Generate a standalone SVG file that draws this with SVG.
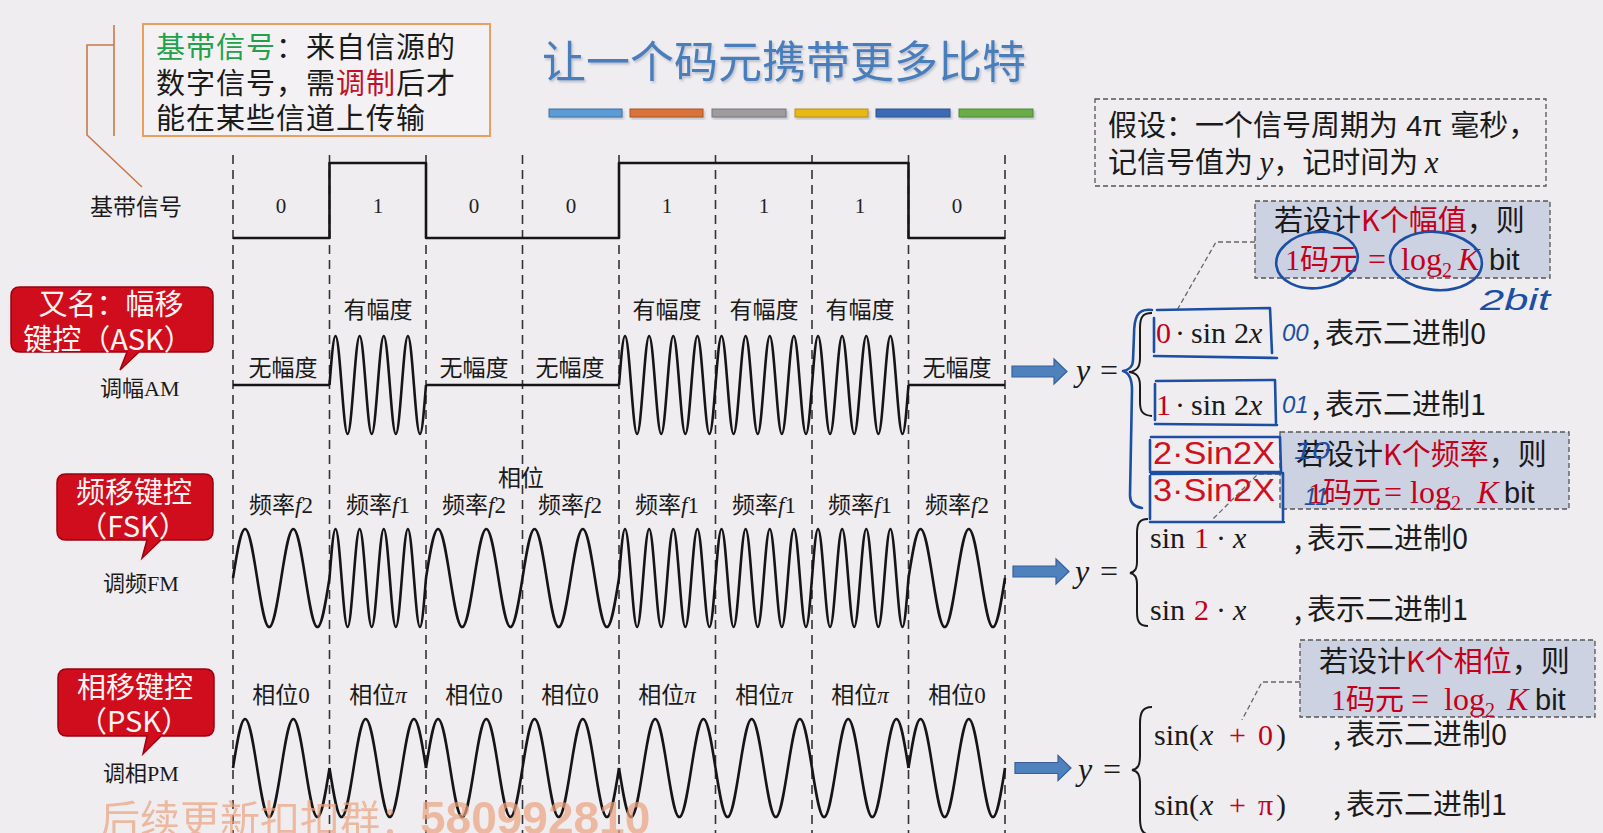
<svg xmlns="http://www.w3.org/2000/svg" xmlns:xlink="http://www.w3.org/1999/xlink" width="1603" height="833" viewBox="0 0 1603 833">
<style>
.bg{fill:#efedf0}
.wave{fill:none;stroke:#151515;stroke-width:2.6;stroke-linejoin:round}
.grid{stroke:#333;stroke-width:1.6;stroke-dasharray:9 6;fill:none}
.serif{font-family:"Liberation Serif","Noto Sans CJK SC",serif}
.cjk{font-family:"Noto Sans CJK SC",sans-serif}
.sans{font-family:"Liberation Sans","Noto Sans CJK SC",sans-serif}
.lbl{font-family:"Liberation Serif","Noto Sans CJK SC",serif;font-size:23px;fill:#1a1a1a;text-anchor:middle}
.dig{font-family:"Liberation Serif",serif;font-size:21px;fill:#222;text-anchor:middle}
.callout{fill:#cf0d1d;stroke:#9c0010;stroke-width:1.5}
.ctext{font-family:"Noto Sans CJK SC",sans-serif;font-size:29px;fill:#fff4f4;text-anchor:middle}
.red{fill:#c4001a}
.math{font-family:"Liberation Serif",serif;font-size:30px;fill:#1a1a1a}
.it{font-style:italic}
.desc{font-family:"Noto Sans CJK SC",sans-serif;font-size:29px;fill:#1a1a1a}
.kbox{fill:#cdd2e2;stroke:#555;stroke-width:1.3;stroke-dasharray:5 3}
.dbox{fill:none;stroke:#555;stroke-width:1.3;stroke-dasharray:5 3}
.lead{fill:none;stroke:#666;stroke-width:1.3;stroke-dasharray:5 3}
.arrow{fill:#4f81bd;stroke:#37609a;stroke-width:1.2}
.brace{fill:none;stroke:#1a1a1a;stroke-width:2}
.ink{fill:none;stroke:#1c4fa3;stroke-width:2.6;stroke-linecap:round;stroke-linejoin:round}
.inkt{font-family:"Liberation Sans",sans-serif;font-style:italic;fill:#1c4fa3}
.redink{font-family:"Liberation Sans",sans-serif;fill:#d0101e}
</style>
<defs>
<path id="f1seg" class="wave" d="M0,0 c2.016,-25.73 3.861,-49 6.031,-49 s4.015,23.27 6.031,49 s3.861,49 6.031,49 s4.015,-23.27 6.031,-49 s3.861,-49 6.031,-49 s4.015,23.27 6.031,49 s3.861,49 6.031,49 s4.015,-23.27 6.031,-49 s3.861,-49 6.031,-49 s4.015,23.27 6.031,49 s3.861,49 6.031,49 s4.015,-23.27 6.031,-49 s3.861,-49 6.031,-49 s4.015,23.27 6.031,49 s3.861,49 6.031,49 s4.015,-23.27 6.031,-49"/>
<path id="f2seg" class="wave" d="M0,0 c4.032,-25.73 7.721,-49 12.063,-49 s8.030,23.27 12.063,49 s7.721,49 12.063,49 s8.030,-23.27 12.063,-49 s7.721,-49 12.063,-49 s8.030,23.27 12.063,49 s7.721,49 12.063,49 s8.030,-23.27 12.063,-49"/>
<filter id="sh" x="-5%" y="-20%" width="110%" height="150%"><feDropShadow dx="1.5" dy="2" stdDeviation="1" flood-color="#7a8aa0" flood-opacity="0.45"/></filter>
</defs>
<rect class="bg" x="0" y="0" width="1603" height="833"/>

<g id="title">
<text x="542" y="78" class="cjk" font-size="44" fill="#4a7ebb" filter="url(#sh)">让一个码元携带更多比特</text>
<g filter="url(#sh)" stroke-width="1">
<rect x="549" y="109" width="73" height="8" fill="#5b9bd5" stroke="#41719c"/>
<rect x="630" y="109" width="73" height="8" fill="#d9733a" stroke="#a9541f"/>
<rect x="712" y="109" width="74" height="8" fill="#9e9a9e" stroke="#7a767a"/>
<rect x="795" y="109" width="73" height="8" fill="#e8b818" stroke="#b89010"/>
<rect x="876" y="109" width="74" height="8" fill="#3e6bb5" stroke="#2d5190"/>
<rect x="959" y="109" width="74" height="8" fill="#6aac46" stroke="#4f8a32"/>
</g>
</g>

<g id="note-baseband">
<path d="M114,25 V136 M114,45 H87 V135 L142,187" fill="none" stroke="#c8784c" stroke-width="1.6"/>
<rect x="143" y="24" width="347" height="112" fill="#f3f1f3" stroke="#e8a060" stroke-width="2"/>
<text class="cjk" font-size="29" letter-spacing="1" fill="#1a1a1a"><tspan x="156" y="58"><tspan fill="#23a04a">基带信号</tspan>：来自信源的</tspan><tspan x="156" y="94">数字信号，需<tspan fill="#c0102a">调制</tspan>后才</tspan><tspan x="156" y="129">能在某些信道上传输</tspan></text>
</g>

<g id="grid">
<path class="grid" d="M233,155 V833 M329.5,155 V833 M426,155 V833 M522.5,155 V833 M619,155 V833 M715.5,155 V833 M812,155 V833 M908.5,155 V833 M1005,155 V833"/>
</g>

<g id="baseband">
<text x="90" y="215" class="serif" font-size="23" fill="#1a1a1a">基带信号</text>
<path class="wave" d="M233,238 H329.5 V163 H426 V238 H619 V163 H908.5 V238 H1005"/>
<text class="dig" y="213"><tspan x="281">0</tspan><tspan x="378">1</tspan><tspan x="474">0</tspan><tspan x="571">0</tspan><tspan x="667">1</tspan><tspan x="764">1</tspan><tspan x="860">1</tspan><tspan x="957">0</tspan></text>
</g>

<g id="ask-label">
<path class="callout" d="M20,287 H204 Q213,287 213,296 V343 Q213,352 204,352 H139 L120,370 L127,352 H20 Q11,352 11,343 V296 Q11,287 20,287 Z"/>
<text class="ctext" x="111" y="315">又名：幅移</text>
<text class="ctext" x="108" y="350">键控（ASK）</text>
<text x="100" y="396" class="serif" font-size="22" fill="#1a1a1a">调幅AM</text>
</g>
<g id="ask-wave">
<path class="wave" d="M233,385 H329.5 M426,385 H619 M908.5,385 H1005"/>
<use xlink:href="#f1seg" x="329.5" y="385"/>
<use xlink:href="#f1seg" x="619" y="385"/>
<use xlink:href="#f1seg" x="715.5" y="385"/>
<use xlink:href="#f1seg" x="812" y="385"/>
<text class="lbl" y="318"><tspan x="378">有幅度</tspan><tspan x="667">有幅度</tspan><tspan x="764">有幅度</tspan><tspan x="860">有幅度</tspan></text>
<text class="lbl" y="376"><tspan x="283">无幅度</tspan><tspan x="474">无幅度</tspan><tspan x="570">无幅度</tspan><tspan x="957">无幅度</tspan></text>
</g>

<g id="fsk-label">
<path class="callout" d="M66,474 H204 Q213,474 213,483 V531 Q213,540 204,540 H161 L142,558 L147,540 H66 Q57,540 57,531 V483 Q57,474 66,474 Z"/>
<text class="ctext" x="134" y="503">频移键控</text>
<text class="ctext" x="133" y="537">（FSK）</text>
<text x="103" y="591" class="serif" font-size="22" fill="#1a1a1a">调频FM</text>
</g>
<g id="fsk-wave">
<use xlink:href="#f2seg" x="233" y="578"/>
<use xlink:href="#f1seg" x="329.5" y="578"/>
<use xlink:href="#f2seg" x="426" y="578"/>
<use xlink:href="#f2seg" x="522.5" y="578"/>
<use xlink:href="#f1seg" x="619" y="578"/>
<use xlink:href="#f1seg" x="715.5" y="578"/>
<use xlink:href="#f1seg" x="812" y="578"/>
<use xlink:href="#f2seg" x="908.5" y="578"/>
<text class="lbl" x="521" y="486">相位</text>
<text class="lbl" y="513"><tspan x="281">频率<tspan class="it">f</tspan>2</tspan><tspan x="378">频率<tspan class="it">f</tspan>1</tspan><tspan x="474">频率<tspan class="it">f</tspan>2</tspan><tspan x="570">频率<tspan class="it">f</tspan>2</tspan><tspan x="667">频率<tspan class="it">f</tspan>1</tspan><tspan x="764">频率<tspan class="it">f</tspan>1</tspan><tspan x="860">频率<tspan class="it">f</tspan>1</tspan><tspan x="957">频率<tspan class="it">f</tspan>2</tspan></text>
</g>

<g id="psk-label">
<path class="callout" d="M67,669 H205 Q214,669 214,678 V727 Q214,736 205,736 H161 L143,754 L147,736 H67 Q58,736 58,727 V678 Q58,669 67,669 Z"/>
<text class="ctext" x="135" y="698">相移键控</text>
<text class="ctext" x="134" y="732">（PSK）</text>
<text x="103" y="781" class="serif" font-size="22" fill="#1a1a1a">调相PM</text>
</g>
<g id="psk-wave">
<use xlink:href="#f2seg" x="233" y="768"/>
<use xlink:href="#f2seg" transform="translate(329.5,768) scale(1,-1)"/>
<use xlink:href="#f2seg" x="426" y="768"/>
<use xlink:href="#f2seg" x="522.5" y="768"/>
<use xlink:href="#f2seg" transform="translate(619,768) scale(1,-1)"/>
<use xlink:href="#f2seg" transform="translate(715.5,768) scale(1,-1)"/>
<use xlink:href="#f2seg" transform="translate(812,768) scale(1,-1)"/>
<use xlink:href="#f2seg" x="908.5" y="768"/>
<text class="lbl" y="703"><tspan x="281">相位0</tspan><tspan x="378">相位<tspan class="it">π</tspan></tspan><tspan x="474">相位0</tspan><tspan x="570">相位0</tspan><tspan x="667">相位<tspan class="it">π</tspan></tspan><tspan x="764">相位<tspan class="it">π</tspan></tspan><tspan x="860">相位<tspan class="it">π</tspan></tspan><tspan x="957">相位0</tspan></text>
</g>

<g id="connectors">
<polygon class="arrow" points="1012,366 1054,366 1054,359 1067,371.5 1054,384 1054,377 1012,377"/>
<polygon class="arrow" points="1013,566 1056,566 1056,559 1069,571.5 1056,584 1056,577 1013,577"/>
<polygon class="arrow" points="1015,762.5 1058,762.5 1058,755.5 1071,768 1058,780.5 1058,773.5 1015,773.5"/>
<path class="lead" d="M1255,242 H1216 L1176,312"/>
<path class="lead" d="M1280,474 H1258 L1212,520"/>
<path class="lead" d="M1300,682 H1262 L1242,720"/>
</g>

<g id="assume-box">
<rect class="dbox" x="1095" y="99" width="451" height="87"/>
<text class="cjk" font-size="29" fill="#1a1a1a"><tspan x="1108" y="136">假设：一个信号周期为<tspan class="sans"> 4π </tspan>毫秒，</tspan><tspan x="1108" y="173">记信号值为 <tspan class="serif it" font-size="31">y</tspan>，记时间为 <tspan class="serif it" font-size="31">x</tspan></tspan></text>
</g>

<g id="ask-formula">
<text class="math" y="381"><tspan x="1076" class="it" font-size="32">y</tspan><tspan x="1100" font-size="32">=</tspan></text>
<path class="brace" d="M1152,313 C1142,313 1140,318 1140,328 V358 C1140,367 1137,371 1129,372 C1137,373 1140,377 1140,386 V402 C1140,411 1142,415 1152,416"/>
<text class="math" y="343"><tspan x="1156" class="red">0</tspan><tspan x="1175">·</tspan><tspan x="1191">sin</tspan><tspan x="1234">2</tspan><tspan x="1249" class="it">x</tspan></text>
<text class="math" y="415"><tspan x="1156" class="red">1</tspan><tspan x="1175">·</tspan><tspan x="1191">sin</tspan><tspan x="1234">2</tspan><tspan x="1249" class="it">x</tspan></text>
<text class="desc" y="344"><tspan x="1312">,</tspan><tspan x="1325">表示二进制0</tspan></text>
<text class="desc" y="415"><tspan x="1312">,</tspan><tspan x="1325">表示二进制1</tspan></text>
</g>

<g id="amp-box">
<rect class="kbox" x="1255" y="201" width="295" height="77"/>
<text class="cjk" font-size="29" fill="#1a1a1a" x="1274" y="231">若设计<tspan class="red">K个幅值</tspan>，则</text>
<text font-size="30" y="270"><tspan x="1285" class="serif red">1</tspan><tspan class="cjk red" font-size="29">码元</tspan><tspan x="1368" class="serif red" font-size="32">=</tspan><tspan x="1401" class="serif red" font-size="32">log</tspan><tspan class="serif red" font-size="20" dy="7">2</tspan><tspan x="1458" dy="-7" class="serif red it" font-size="32">K</tspan><tspan x="1489" class="sans" fill="#1a1a1a" font-size="29">bit</tspan></text>
</g>

<g id="fsk-formula">
<text class="math" y="582"><tspan x="1075" class="it" font-size="32">y</tspan><tspan x="1100" font-size="32">=</tspan></text>
<path class="brace" d="M1148,519 C1139,519 1137,524 1137,533 V561 C1137,569 1135,572 1130,573 C1135,574 1137,577 1137,585 V612 C1137,621 1139,626 1148,626"/>
<text class="math" y="548"><tspan x="1150">sin</tspan><tspan x="1194" class="red">1</tspan><tspan x="1216">·</tspan><tspan x="1233" class="it">x</tspan></text>
<text class="math" y="620"><tspan x="1150">sin</tspan><tspan x="1194" class="red">2</tspan><tspan x="1216">·</tspan><tspan x="1233" class="it">x</tspan></text>
<text class="desc" y="549"><tspan x="1294">,</tspan><tspan x="1307">表示二进制0</tspan></text>
<text class="desc" y="620"><tspan x="1294">,</tspan><tspan x="1307">表示二进制1</tspan></text>
</g>

<g id="freq-box">
<rect class="kbox" x="1280" y="432" width="289" height="77"/>
<text class="cjk" font-size="29" fill="#1a1a1a" x="1296" y="465">若设计<tspan class="red">K个频率</tspan>，则</text>
<text font-size="30" y="503"><tspan x="1308" class="serif red">1</tspan><tspan class="cjk red" font-size="29">码元</tspan><tspan x="1384" class="serif red" font-size="32">=</tspan><tspan x="1410" class="serif red" font-size="32">log</tspan><tspan class="serif red" font-size="20" dy="7">2</tspan><tspan x="1477" dy="-7" class="serif red it" font-size="32">K</tspan><tspan x="1504" class="sans" fill="#1a1a1a" font-size="29">bit</tspan></text>
</g>

<g id="psk-formula">
<text class="math" y="780"><tspan x="1078" class="it" font-size="32">y</tspan><tspan x="1103" font-size="32">=</tspan></text>
<path class="brace" d="M1152,707 C1142,707 1140,713 1140,724 V756 C1140,765 1138,769 1132,770 C1138,771 1140,775 1140,784 V818 C1140,829 1142,835 1152,835"/>
<text class="math" y="745"><tspan x="1154">sin(</tspan><tspan x="1200" class="it">x</tspan><tspan x="1229" class="red">+</tspan><tspan x="1258" class="red">0</tspan><tspan x="1276">)</tspan></text>
<text class="math" y="815"><tspan x="1154">sin(</tspan><tspan x="1200" class="it">x</tspan><tspan x="1229" class="red">+</tspan><tspan x="1258" class="red">π</tspan><tspan x="1276">)</tspan></text>
<text class="desc" y="745"><tspan x="1333">,</tspan><tspan x="1346">表示二进制0</tspan></text>
<text class="desc" y="815"><tspan x="1333">,</tspan><tspan x="1346">表示二进制1</tspan></text>
</g>

<g id="phase-box">
<rect class="kbox" x="1300" y="640" width="295" height="77"/>
<text class="cjk" font-size="29" fill="#1a1a1a" x="1319" y="672">若设计<tspan class="red">K个相位</tspan>，则</text>
<text font-size="30" y="710"><tspan x="1331" class="serif red">1</tspan><tspan class="cjk red" font-size="29">码元</tspan><tspan x="1411" class="serif red" font-size="32">=</tspan><tspan x="1444" class="serif red" font-size="32">log</tspan><tspan class="serif red" font-size="20" dy="7">2</tspan><tspan x="1507" dy="-7" class="serif red it" font-size="32">K</tspan><tspan x="1535" class="sans" fill="#1a1a1a" font-size="29">bit</tspan></text>
</g>

<g id="handwriting">
<ellipse class="ink" cx="1317" cy="260" rx="41" ry="28" transform="rotate(-8 1317 260)"/>
<ellipse class="ink" cx="1436" cy="261" rx="46" ry="29" transform="rotate(5 1436 261)"/>
<text class="inkt" x="1480" y="310" font-size="30" textLength="70" lengthAdjust="spacingAndGlyphs">2bit</text>
<path class="ink" d="M1152,310 C1137,308 1134,318 1134,335 L1133,360 C1133,366 1129,370 1123,371 C1130,373 1132,380 1132,390 L1130,495 C1130,503 1134,507 1142,508"/>
<path class="ink" d="M1154,318 V352 M1157,310 L1270,308 L1272,353 M1154,356 L1277,358"/>
<path class="ink" d="M1155,384 V420 M1156,381 L1275,380 L1276,423 M1155,424 L1277,425"/>
<path class="ink" d="M1150,440 V470 M1151,437 L1280,437 L1281,471 M1150,472 L1281,472"/>
<path class="ink" d="M1150,476 V519 M1151,474 L1283,473 L1283,520 M1150,522 L1284,522"/>
<text class="inkt" x="1282" y="341" font-size="24">00</text>
<text class="inkt" x="1282" y="413" font-size="24">01</text>
<text class="redink" x="1153" y="464" font-size="32" textLength="122" lengthAdjust="spacingAndGlyphs">2·Sin2X</text>
<text class="redink" x="1153" y="501" font-size="32" textLength="122" lengthAdjust="spacingAndGlyphs">3·Sin2X</text>
<text class="inkt" x="1294" y="459" font-size="24" textLength="36" lengthAdjust="spacingAndGlyphs">10</text>
<text class="inkt" x="1304" y="505" font-size="24" textLength="24" lengthAdjust="spacingAndGlyphs">11</text>
</g>

<g id="watermark" opacity="0.7">
<text x="100" y="834" class="cjk" font-size="40" fill="#eba27e">后续更新扣扣群：<tspan class="sans" font-weight="bold" font-size="46">580992810</tspan></text>
</g>
</svg>
